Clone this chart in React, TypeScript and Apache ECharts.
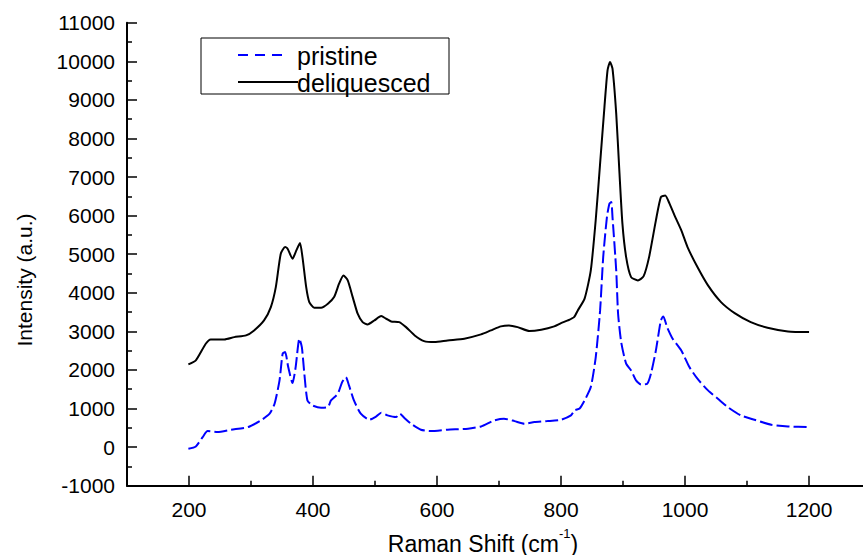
import React, { useEffect, useRef } from "react";
import * as echarts from "echarts";

const ramanShiftPristine = [
  199, 211, 222, 230, 246, 268, 295, 316, 330, 338, 346, 351, 355, 360, 367, 372, 378, 382, 386, 391,
  399, 413, 424, 429, 440, 447, 453, 458, 466, 477, 491, 502, 510, 520, 534, 540, 547, 558, 574, 590,
  617, 650, 671, 692, 708, 725, 741, 757, 778, 800, 816, 822, 830, 838, 848, 856, 863, 868, 874, 878,
  881, 883, 889, 892, 897, 905, 913, 921, 929, 939, 945, 953, 961, 965, 971, 980, 994, 1007, 1020, 1037,
  1053, 1069, 1090, 1112, 1139, 1166, 1200,
];
const intensityPristine = [
  -41, 18, 259, 415, 389, 451, 518, 692, 865, 1125, 1729, 2421, 2462, 2074, 1659, 2074, 2810, 2592, 1902, 1210,
  1081, 1021, 1037, 1210, 1384, 1685, 1814, 1599, 1210, 865, 710, 796, 891, 822, 778, 865, 762, 606, 451, 415,
  451, 477, 536, 692, 736, 674, 606, 648, 674, 710, 822, 951, 1000, 1210, 1555, 2333, 3543, 4925, 5962, 6309,
  6351, 5962, 4580, 3458, 2722, 2162, 1988, 1729, 1625, 1643, 1902, 2506, 3284, 3388, 3111, 2810, 2506, 2074, 1773, 1470,
  1254, 1037, 822, 710, 581, 536, 518,
];

const ramanShiftDeliquesced = [
  199, 211, 227, 235, 257, 273, 292, 305, 321, 332, 340, 348, 355, 359, 367, 372, 379, 383, 389, 394,
  402, 413, 424, 434, 442, 449, 456, 464, 472, 480, 488, 499, 510, 518, 526, 539, 550, 564, 579, 596,
  617, 644, 671, 687, 703, 716, 730, 749, 768, 789, 800, 811, 821, 827, 838, 848, 856, 863, 870, 875,
  879, 883, 889, 894, 899, 905, 913, 924, 933, 942, 953, 961, 968, 975, 983, 994, 1004, 1020, 1037, 1058,
  1080, 1106, 1133, 1166, 1200,
];
const intensityDeliquesced = [
  2144, 2248, 2680, 2792, 2792, 2851, 2895, 3025, 3284, 3630, 4147, 5013, 5185, 5143, 4883, 5055, 5288, 4925, 4147, 3759,
  3613, 3613, 3716, 3888, 4235, 4451, 4321, 3888, 3457, 3240, 3180, 3284, 3396, 3327, 3258, 3240, 3110, 2895, 2748, 2722,
  2766, 2810, 2921, 3025, 3129, 3155, 3110, 3007, 3042, 3129, 3214, 3284, 3370, 3543, 3850, 4580, 5900, 7346, 8813, 9764,
  9980, 9808, 8642, 7172, 5791, 4925, 4407, 4321, 4424, 4925, 5876, 6480, 6524, 6309, 6006, 5617, 5184, 4666, 4191, 3758,
  3473, 3240, 3095, 2999, 2981,
];

const xTickValues = [200, 400, 600, 800, 1000, 1200];
const xMinorTickValues = [300, 500, 700, 900, 1100];
const seriesNames = ["pristine", "deliquesced"];

const FONT = "'Liberation Sans', Arial, sans-serif";

export default function App() {
  const ref = useRef<HTMLDivElement>(null);
  useEffect(() => {
    if (!ref.current) return;
    const chart = echarts.init(ref.current, undefined, { renderer: "svg" });
    const axisLineStyle = { color: "#000", width: 2 };
    const tickLineStyle = { color: "#000", width: 1.5 };
    const plain = (v: number) => String(v);
    chart.setOption({
      animation: false,
      backgroundColor: "#fff",
      grid: { left: 127, top: 22.7, right: 0, height: 463 },
      xAxis: [
        {
          type: "value",
          min: 100,
          max: 1287,
          position: "bottom",
          axisLine: { show: true, onZero: false, lineStyle: axisLineStyle },
          axisTick: { show: true, inside: true, length: 10, customValues: xTickValues, lineStyle: tickLineStyle },
          axisLabel: { customValues: xTickValues, formatter: plain, color: "#000", fontSize: 21, fontFamily: FONT, margin: 13 },
          splitLine: { show: false },
        },
        {
          type: "value",
          min: 100,
          max: 1287,
          position: "bottom",
          axisLine: { show: false, onZero: false },
          axisTick: { show: true, inside: true, length: 5, customValues: xMinorTickValues, lineStyle: tickLineStyle },
          axisLabel: { show: false },
          splitLine: { show: false },
        },
      ],
      yAxis: {
        type: "value",
        min: -1000,
        max: 11000,
        interval: 1000,
        axisLine: { show: true, onZero: false, lineStyle: axisLineStyle },
        axisTick: { show: true, inside: true, length: 10, lineStyle: tickLineStyle },
        minorTick: { show: true, splitNumber: 2, length: 5, lineStyle: tickLineStyle },
        axisLabel: { formatter: plain, color: "#000", fontSize: 21, fontFamily: FONT, margin: 12 },
        splitLine: { show: false },
      },
      series: [
        {
          name: seriesNames[0],
          type: "line",
          xAxisIndex: 0,
          data: ramanShiftPristine.map((x, i) => [x, intensityPristine[i]]),
          showSymbol: false,
          symbol: "none",
          smooth: 0.2,
          lineStyle: { color: "#0000ff", width: 2, type: [13, 4] },
        },
        {
          name: seriesNames[1],
          type: "line",
          xAxisIndex: 0,
          data: ramanShiftDeliquesced.map((x, i) => [x, intensityDeliquesced[i]]),
          showSymbol: false,
          symbol: "none",
          smooth: 0.2,
          lineStyle: { color: "#000", width: 2 },
        },
      ],
      graphic: [
        {
          type: "rect",
          shape: { x: 201, y: 38, width: 248, height: 56 },
          style: { fill: "#fff", stroke: "#000", lineWidth: 1 },
          z: 10,
        },
        {
          type: "line",
          shape: { x1: 238, y1: 55, x2: 288, y2: 55 },
          style: { stroke: "#0000ff", lineWidth: 2, lineDash: [10, 7] },
          z: 11,
        },
        {
          type: "line",
          shape: { x1: 238, y1: 82, x2: 298, y2: 82 },
          style: { stroke: "#000", lineWidth: 2 },
          z: 11,
        },
        {
          type: "text",
          x: 297,
          y: 56,
          style: { text: seriesNames[0], fill: "#000", font: `25px ${FONT}`, verticalAlign: "middle", align: "left" },
          z: 11,
        },
        {
          type: "text",
          x: 297,
          y: 83,
          style: { text: seriesNames[1], fill: "#000", font: `25px ${FONT}`, verticalAlign: "middle", align: "left" },
          z: 11,
        },
        {
          type: "text",
          x: 24,
          y: 280,
          rotation: Math.PI / 2,
          style: { text: "Intensity (a.u.)", fill: "#000", font: `21px ${FONT}`, align: "center", verticalAlign: "middle" },
        },
        {
          type: "text",
          x: 483,
          y: 541,
          style: {
            text: "{m|Raman Shift (cm}{s|-1}{m|)}",
            align: "center",
            verticalAlign: "middle",
            rich: {
              m: { fontSize: 23, fontFamily: FONT, fill: "#000", lineHeight: 28, verticalAlign: "bottom" },
              s: { fontSize: 13, fontFamily: FONT, fill: "#000", lineHeight: 28, verticalAlign: "top", padding: [0, 0, 12, 0] },
            },
          },
        },
      ],
    });
    return () => chart.dispose();
  }, []);
  return (
    <div
      ref={ref}
      style={{ position: "fixed", left: 0, top: 0, width: 863, height: 555, background: "#fff" }}
    />
  );
}
